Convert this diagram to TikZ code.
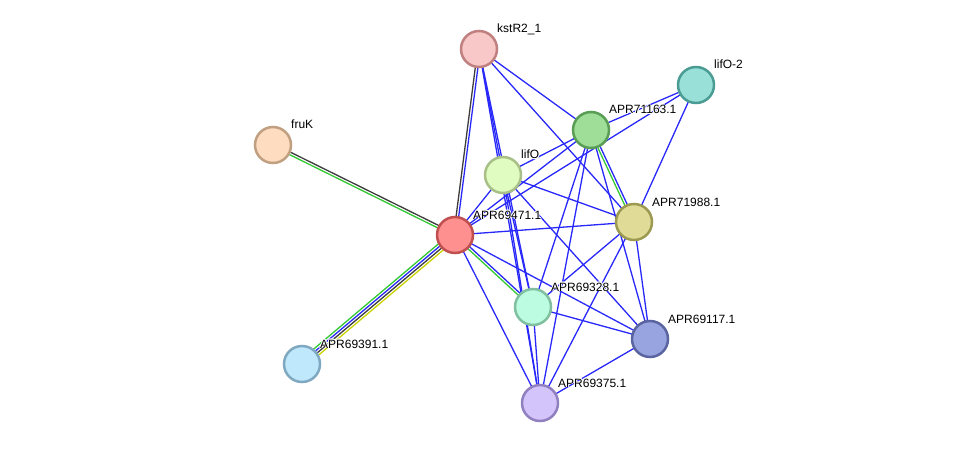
\documentclass[tikz,border=0pt]{standalone}
\usepackage{fontspec}
\setmainfont{Liberation Sans}
\usetikzlibrary{calc}
\pgfdeclarelayer{bg}
\pgfsetlayers{bg,main}
\definecolor{eblue}{RGB}{40,40,250}
\definecolor{egreen}{RGB}{50,200,50}
\definecolor{egrey}{RGB}{60,60,60}
\definecolor{eyellow}{RGB}{200,210,0}
\definecolor{fkst}{RGB}{248,200,200}\definecolor{bkst}{RGB}{192,128,128}
\definecolor{flif2}{RGB}{153,224,216}\definecolor{blif2}{RGB}{74,156,148}
\definecolor{f163}{RGB}{158,222,152}\definecolor{b163}{RGB}{90,158,86}
\definecolor{ffru}{RGB}{253,220,192}\definecolor{bfru}{RGB}{192,160,128}
\definecolor{flif}{RGB}{224,252,192}\definecolor{blif}{RGB}{168,192,136}
\definecolor{f471}{RGB}{255,144,144}\definecolor{b471}{RGB}{192,80,80}
\definecolor{f988}{RGB}{224,220,152}\definecolor{b988}{RGB}{156,154,80}
\definecolor{f328}{RGB}{188,252,224}\definecolor{b328}{RGB}{128,192,160}
\definecolor{f117}{RGB}{152,164,224}\definecolor{b117}{RGB}{90,100,160}
\definecolor{f391}{RGB}{192,232,252}\definecolor{b391}{RGB}{128,168,192}
\definecolor{f375}{RGB}{212,196,252}\definecolor{b375}{RGB}{144,128,192}
\newcommand\edg[4]{\draw[edge,draw=#4] ($(#1.center)!#3!90:(#2.center)$) -- ($(#2.center)!#3!-90:(#1.center)$);}
\newcommand\ed[2]{\draw[edge,draw=eblue] (#1.center) -- (#2.center);}
\newcommand\hlone[3]{\rlap{\kern#2\raisebox{#3}{\color{white}#1}}}
\newcommand\hl[1]{\leavevmode\hlone{#1}{-0.9pt}{0pt}\hlone{#1}{0.9pt}{0pt}\hlone{#1}{0pt}{0.9pt}\hlone{#1}{0pt}{-0.9pt}\hlone{#1}{-0.65pt}{0.65pt}\hlone{#1}{0.65pt}{0.65pt}\hlone{#1}{-0.65pt}{-0.65pt}\hlone{#1}{0.65pt}{-0.65pt}#1}
\tikzset{
  prot/.style={circle, minimum size=36pt, inner sep=0pt, line width=2.5pt, fill=f#1, draw=b#1},
  lbl/.style={anchor=base west, inner sep=0pt, font=\fontsize{12}{14}\selectfont, text=black},
  edge/.style={line width=1.3pt}
}
\begin{document}
\begin{tikzpicture}[x=1pt,y=-1pt]
\useasboundingbox (0,0) rectangle (976,449);
% nodes
\node[prot=kst] (kst) at (479,49) {};
\node[prot=lif2] (lif2) at (696,85) {};
\node[prot=163] (a163) at (591,130) {};
\node[prot=fru] (fru) at (273,145) {};
\node[prot=lif] (lif) at (503,175) {};
\node[prot=471] (a471) at (455,235) {};
\node[prot=988] (a988) at (634,222) {};
\node[prot=328] (a328) at (533,307) {};
\node[prot=117] (a117) at (650,339) {};
\node[prot=391] (a391) at (302,364) {};
\node[prot=375] (a375) at (540,403) {};
% labels
\node[lbl] (lkst) at ($(kst)+(18,-16)$) {\hl{kstR2\_1}};
\node[lbl] (llif2) at ($(lif2)+(18,-16)$) {\hl{lifO-2}};
\node[lbl] (l163) at ($(a163)+(18,-16)$) {\hl{APR71163.1}};
\node[lbl] (lfru) at ($(fru)+(18,-16)$) {\hl{fruK}};
\node[lbl] (llif) at ($(lif)+(18,-16)$) {\hl{lifO}};
\node[lbl] (l471) at ($(a471)+(18,-16)$) {\hl{APR69471.1}};
\node[lbl] (l988) at ($(a988)+(18,-16)$) {\hl{APR71988.1}};
\node[lbl] (l328) at ($(a328)+(18,-16)$) {\hl{APR69328.1}};
\node[lbl] (l117) at ($(a117)+(18,-16)$) {\hl{APR69117.1}};
\node[lbl] (l391) at ($(a391)+(18,-16)$) {\hl{APR69391.1}};
\node[lbl] (l375) at ($(a375)+(18,-16)$) {\hl{APR69375.1}};
% edges
\begin{pgfonlayer}{bg}
\edg{fru}{a471}{-1.3pt}{egreen}
\edg{fru}{a471}{1.3pt}{egrey}
\edg{a391}{a471}{3.9pt}{egreen}
\edg{a391}{a471}{1.3pt}{eblue}
\edg{a391}{a471}{-1.3pt}{egrey}
\edg{a391}{a471}{-3.9pt}{eyellow}
\edg{kst}{a471}{-1.3pt}{egrey}
\edg{kst}{a471}{1.3pt}{eblue}
\edg{a471}{a328}{-1.3pt}{egreen}
\edg{a471}{a328}{1.3pt}{eblue}
\edg{a163}{a988}{-1.3pt}{egreen}
\edg{a163}{a988}{1.3pt}{eblue}
\ed{kst}{lif}
\ed{kst}{a328}
\ed{kst}{a375}
\ed{kst}{a163}
\ed{kst}{a988}
\ed{lif2}{a163}
\ed{lif2}{a471}
\ed{lif2}{a988}
\ed{a163}{lif}
\ed{a163}{a471}
\ed{a163}{a328}
\ed{a163}{a375}
\ed{a163}{a117}
\ed{lif}{a471}
\ed{lif}{a988}
\ed{lif}{a117}
\ed{lif}{a328}
\ed{lif}{a375}
\ed{a471}{a988}
\ed{a471}{a117}
\ed{a471}{a375}
\ed{a988}{a328}
\ed{a988}{a117}
\ed{a988}{a375}
\ed{a328}{a117}
\ed{a328}{a375}
\ed{a117}{a375}
\end{pgfonlayer}
\end{tikzpicture}
\end{document}
